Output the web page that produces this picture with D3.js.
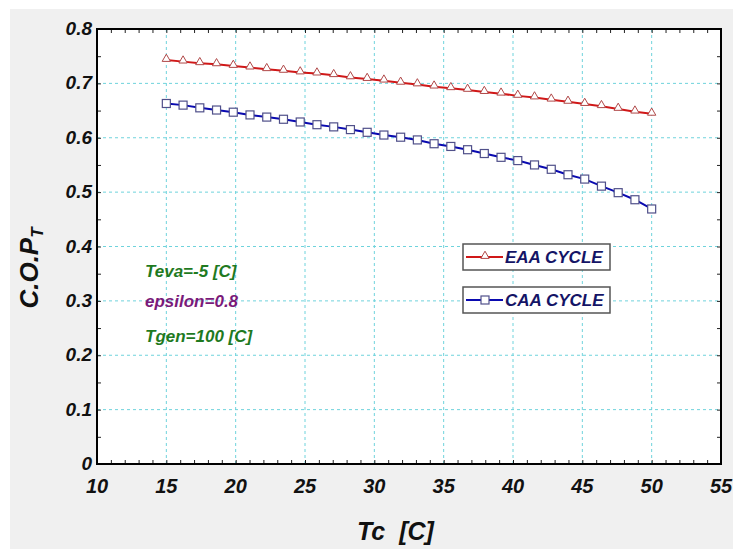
<!DOCTYPE html>
<html>
<head>
<meta charset="utf-8">
<script src="https://cdn.jsdelivr.net/npm/d3@7"></script>
<style>
    body { margin: 0; background: #fff; }
    text { font-family: "Liberation Sans", Arial, sans-serif; font-weight: bold; font-style: italic; }
</style>
</head>
<body>
<svg id="chart" width="733" height="549"></svg>
<script>
// condenser temperature Tc [C], 30 rows from 15 to 50
var tc = [15, 16.207, 17.414, 18.621, 19.828, 21.034, 22.241, 23.448, 24.655, 25.862,
    27.069, 28.276, 29.483, 30.69, 31.897, 33.103, 34.31, 35.517, 36.724, 37.931,
    39.138, 40.345, 41.552, 42.759, 43.966, 45.172, 46.379, 47.586, 48.793, 50];

var eaaCop = [0.743, 0.740, 0.737, 0.735, 0.732, 0.729, 0.726, 0.723, 0.720, 0.718,
    0.715, 0.711, 0.708, 0.705, 0.701, 0.698, 0.694, 0.691, 0.688, 0.684,
    0.681, 0.677, 0.674, 0.670, 0.666, 0.662, 0.658, 0.653, 0.648, 0.644];

var caaCop = [0.663, 0.660, 0.655, 0.651, 0.647, 0.642, 0.638, 0.634, 0.629, 0.624,
    0.620, 0.615, 0.610, 0.605, 0.601, 0.596, 0.589, 0.584, 0.578, 0.571,
    0.564, 0.558, 0.550, 0.542, 0.532, 0.524, 0.511, 0.499, 0.486, 0.469];

var xTicks = [10, 15, 20, 25, 30, 35, 40, 45, 50, 55];
var yTicks = [0, 0.1, 0.2, 0.3, 0.4, 0.5, 0.6, 0.7, 0.8];
var notes = ["Teva=-5 [C]", "epsilon=0.8", "Tgen=100 [C]"];
var seriesNames = ["EAA CYCLE", "CAA CYCLE"];

var svg = d3.select("#chart");
var m = {left: 97, top: 29, right: 721, bottom: 464};

var x = d3.scaleLinear().domain([10, 55]).range([m.left, m.right]);
var y = d3.scaleLinear().domain([0, 0.8]).range([m.bottom, m.top]);

// grey frame background
svg.append("rect").attr("x", 10).attr("y", 9).attr("width", 723).attr("height", 540).attr("fill", "#f0f0f0");
svg.append("rect").attr("x", m.left).attr("y", m.top)
    .attr("width", m.right - m.left).attr("height", m.bottom - m.top).attr("fill", "#fff");

// grid
var grid = svg.append("g").attr("stroke", "#6fd3dc").attr("stroke-width", 1).attr("stroke-dasharray", "3,3");
grid.selectAll("line.v").data(xTicks.slice(1, -1)).enter().append("line")
    .attr("x1", function (d) { return x(d); }).attr("x2", function (d) { return x(d); })
    .attr("y1", m.top).attr("y2", m.bottom);
grid.selectAll("line.h").data(yTicks.slice(1, -1)).enter().append("line")
    .attr("y1", function (d) { return y(d); }).attr("y2", function (d) { return y(d); })
    .attr("x1", m.left).attr("x2", m.right);

// axes with inner ticks
var minorX = d3.range(10, 56, 1);
var minorY = d3.range(0, 0.81, 0.05);
svg.append("g").attr("transform", "translate(0," + m.bottom + ")")
    .call(d3.axisTop(x).tickValues(minorX).tickSize(4).tickFormat(""));
svg.append("g").attr("transform", "translate(0," + m.top + ")")
    .call(d3.axisBottom(x).tickValues(minorX).tickSize(4).tickFormat(""));
svg.append("g").attr("transform", "translate(" + m.left + ",0)")
    .call(d3.axisRight(y).tickValues(minorY).tickSize(4).tickFormat(""));
svg.append("g").attr("transform", "translate(" + m.right + ",0)")
    .call(d3.axisLeft(y).tickValues(minorY).tickSize(4).tickFormat(""));
svg.selectAll(".domain").remove();
svg.selectAll(".tick line").attr("stroke", "#222");

svg.append("rect").attr("x", m.left).attr("y", m.top)
    .attr("width", m.right - m.left).attr("height", m.bottom - m.top)
    .attr("fill", "none").attr("stroke", "#000").attr("stroke-width", 2);

// tick labels
svg.append("g").selectAll("text").data(xTicks).enter().append("text")
    .attr("x", function (d) { return x(d); }).attr("y", 493)
    .attr("text-anchor", "middle").attr("font-size", 20).attr("fill", "#111")
    .text(function (d) { return d; });
svg.append("g").selectAll("text").data(yTicks).enter().append("text")
    .attr("x", 92).attr("y", function (d) { return y(d) + 6; })
    .attr("text-anchor", "end").attr("font-size", 19).attr("fill", "#111")
    .text(function (d) { return d === 0 ? "0" : d.toFixed(1); });

// axis titles
svg.append("text").attr("x", 357).attr("y", 540).attr("font-size", 25).attr("fill", "#111")
    .attr("xml:space", "preserve").text("Tc  [C]");
var yt = svg.append("text").attr("transform", "translate(38,268) rotate(-90)")
    .attr("text-anchor", "middle").attr("font-size", 26).attr("fill", "#111");
yt.append("tspan").text("C.O.P");
yt.append("tspan").attr("font-size", 17).attr("dy", 5).text("T");

// series
var lineGen = d3.line().x(function (d) { return x(d[0]); }).y(function (d) { return y(d[1]); });
var eaa = d3.zip(tc, eaaCop), caa = d3.zip(tc, caaCop);
var tri = d3.symbol().type(d3.symbolTriangle).size(30);

svg.append("path").datum(eaa).attr("d", lineGen).attr("fill", "none")
    .attr("stroke", "#d01818").attr("stroke-width", 2);
svg.append("g").selectAll("path").data(eaa).enter().append("path")
    .attr("d", tri).attr("transform", function (d) { return "translate(" + x(d[0]) + "," + (y(d[1]) - 1) + ")"; })
    .attr("fill", "#fff").attr("stroke", "#b04848").attr("stroke-width", 1);

svg.append("path").datum(caa).attr("d", lineGen).attr("fill", "none")
    .attr("stroke", "#0a0ab0").attr("stroke-width", 2);
svg.append("g").selectAll("rect").data(caa).enter().append("rect")
    .attr("x", function (d) { return x(d[0]) - 4; }).attr("y", function (d) { return y(d[1]) - 4; })
    .attr("width", 8).attr("height", 8)
    .attr("fill", "#fff").attr("stroke", "#50508a").attr("stroke-width", 1.2);

// legend boxes
var legend = svg.append("g");
var lg = [
    {name: seriesNames[0], y: 244, color: "#d01818", mark: "tri"},
    {name: seriesNames[1], y: 287, color: "#0a0ab0", mark: "sq"}
];
lg.forEach(function (l) {
    legend.append("rect").attr("x", 463).attr("y", l.y).attr("width", 147).attr("height", 26)
        .attr("fill", "#fff").attr("stroke", "#555").attr("stroke-width", 1.5);
    legend.append("line").attr("x1", 466).attr("x2", 503).attr("y1", l.y + 13).attr("y2", l.y + 13)
        .attr("stroke", l.color).attr("stroke-width", 2);
    if (l.mark === "tri") {
        legend.append("path").attr("d", tri).attr("transform", "translate(485," + (l.y + 12) + ")")
            .attr("fill", "#fff").attr("stroke", "#b04848");
    } else {
        legend.append("rect").attr("x", 481).attr("y", l.y + 9).attr("width", 8).attr("height", 8)
            .attr("fill", "#fff").attr("stroke", "#50508a").attr("stroke-width", 1.2);
    }
    legend.append("text").attr("x", 505).attr("y", l.y + 19).attr("font-size", 17)
        .attr("fill", "#141466").text(l.name);
});

// parameter notes
var noteColors = ["#1f7a1f", "#7a1a7a", "#1f7a1f"];
var noteY = [277, 307, 342];
notes.forEach(function (t, i) {
    svg.append("text").attr("x", 145).attr("y", noteY[i]).attr("font-size", 17)
        .attr("fill", noteColors[i]).text(t);
});
</script>
</body>
</html>
